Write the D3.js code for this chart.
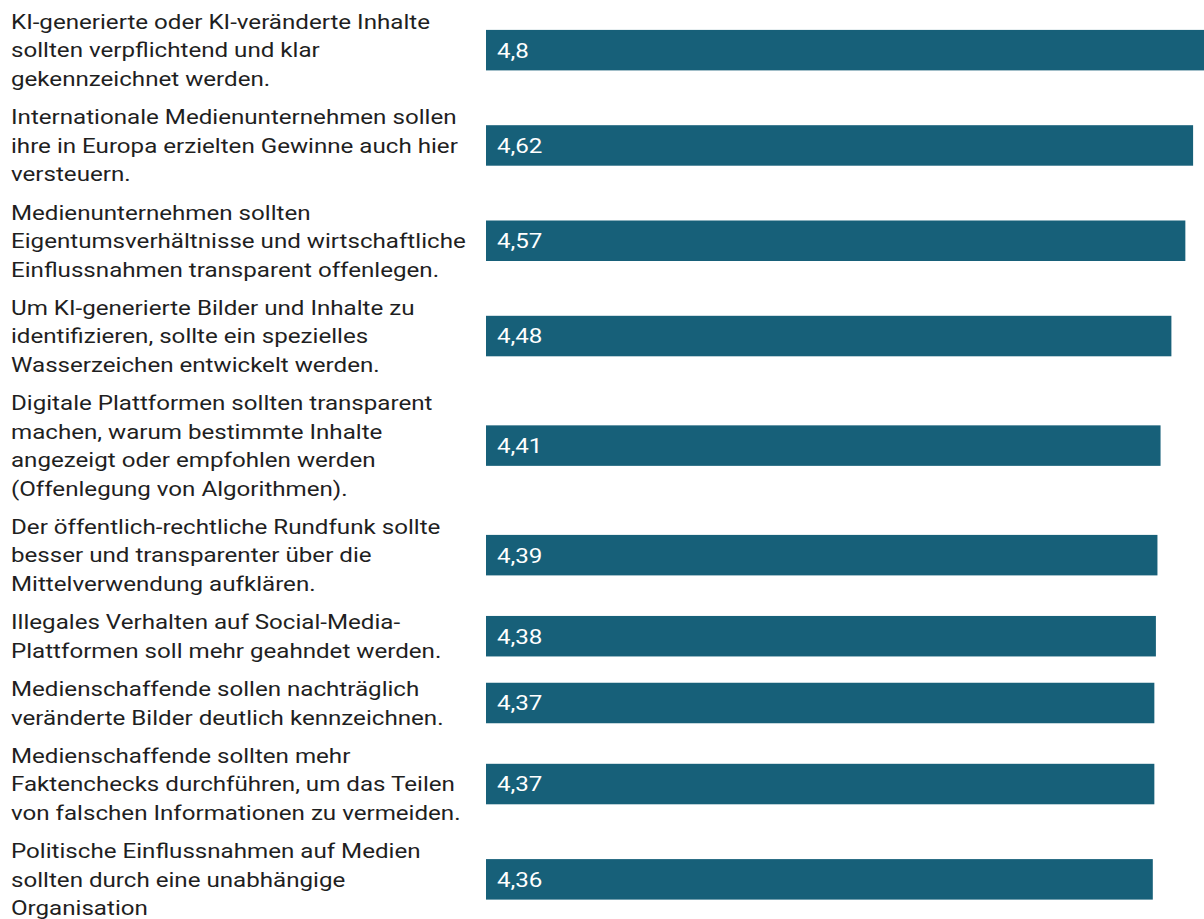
<!DOCTYPE html>
<html lang="de">
<head>
<meta charset="utf-8">
<script src="https://cdn.jsdelivr.net/npm/d3@7"></script>
<style>
  html, body { margin: 0; padding: 0; background: #fff; overflow: hidden; }
  svg { display: block; font-family: Roboto, "Noto Sans", sans-serif; }
</style>
</head>
<body>
<svg class="bars" width="1204" height="919"></svg>
<script>
// statements, already broken into the lines shown in the chart
const labels = [
  ["KI-generierte oder KI-veränderte Inhalte", "sollten verpflichtend und klar", "gekennzeichnet werden."],
  ["Internationale Medienunternehmen sollen", "ihre in Europa erzielten Gewinne auch hier", "versteuern."],
  ["Medienunternehmen sollten", "Eigentumsverhältnisse und wirtschaftliche", "Einflussnahmen transparent offenlegen."],
  ["Um KI-generierte Bilder und Inhalte zu", "identifizieren, sollte ein spezielles", "Wasserzeichen entwickelt werden."],
  ["Digitale Plattformen sollten transparent", "machen, warum bestimmte Inhalte", "angezeigt oder empfohlen werden", "(Offenlegung von Algorithmen)."],
  ["Der öffentlich-rechtliche Rundfunk sollte", "besser und transparenter über die", "Mittelverwendung aufklären."],
  ["Illegales Verhalten auf Social-Media-", "Plattformen soll mehr geahndet werden."],
  ["Medienschaffende sollen nachträglich", "veränderte Bilder deutlich kennzeichnen."],
  ["Medienschaffende sollten mehr", "Faktenchecks durchführen, um das Teilen", "von falschen Informationen zu vermeiden."],
  ["Politische Einflussnahmen auf Medien", "sollten durch eine unabhängige", "Organisation"]
];
const values = [4.8, 4.62, 4.57, 4.48, 4.41, 4.39, 4.38, 4.37, 4.37, 4.36];

const svg = d3.select("svg.bars");
const fontSize = 21;
const stretch = 1.15;     // glyphs in the source are drawn a bit wide
const lineHeight = 28.5;
const rowGap = 38.3;      // last baseline -> next row's first baseline
const firstBaseline = 29;
const barLeft = 486;
const barHeight = 40.5;

// row layout: baseline of each row's first line, and the block's centre
let rows = [];
let yb = firstBaseline;
labels.forEach(function(lines, i) {
    const last = yb + (lines.length - 1) * lineHeight;
    rows.push({lines: lines, value: values[i], first: yb, center: (yb + last) / 2 - fontSize * 0.35});
    yb = last + rowGap;
});

const x = d3.scaleLinear().domain([0, 5]).range([477, 1252]);

// labels
const lab = svg.append("g").attr("class", "labels");
rows.forEach(function(r) {
    lab.append("text")
        .attr("transform", "translate(11,0) scale(" + stretch + ",1)")
        .style("font-size", fontSize + "px")
        .style("fill", "#1f1f1f")
        .selectAll("tspan")
        .data(r.lines)
        .enter()
        .append("tspan")
        .attr("x", 0)
        .attr("y", function(d, j) { return r.first + j * lineHeight; })
        .text(function(d) { return d; });
});

// bars
const g = svg.append("g").attr("class", "bar-group");
g.selectAll(".bar")
    .data(rows)
    .enter()
    .append("rect")
    .attr("class", "bar")
    .attr("x", barLeft)
    .attr("y", function(d) { return d.center - barHeight / 2; })
    .attr("width", function(d) { return x(d.value) - barLeft; })
    .attr("height", barHeight)
    .style("fill", "#176079");

g.selectAll(".val")
    .data(rows)
    .enter()
    .append("text")
    .attr("class", "val")
    .attr("transform", function(d) { return "translate(" + (barLeft + 11) + "," + d.center + ") scale(" + stretch + ",1)"; })
    .attr("dy", "0.35em")
    .style("font-size", fontSize + "px")
    .style("fill", "#fff")
    .text(function(d) { return String(d.value).replace(".", ","); });
</script>
</body>
</html>
